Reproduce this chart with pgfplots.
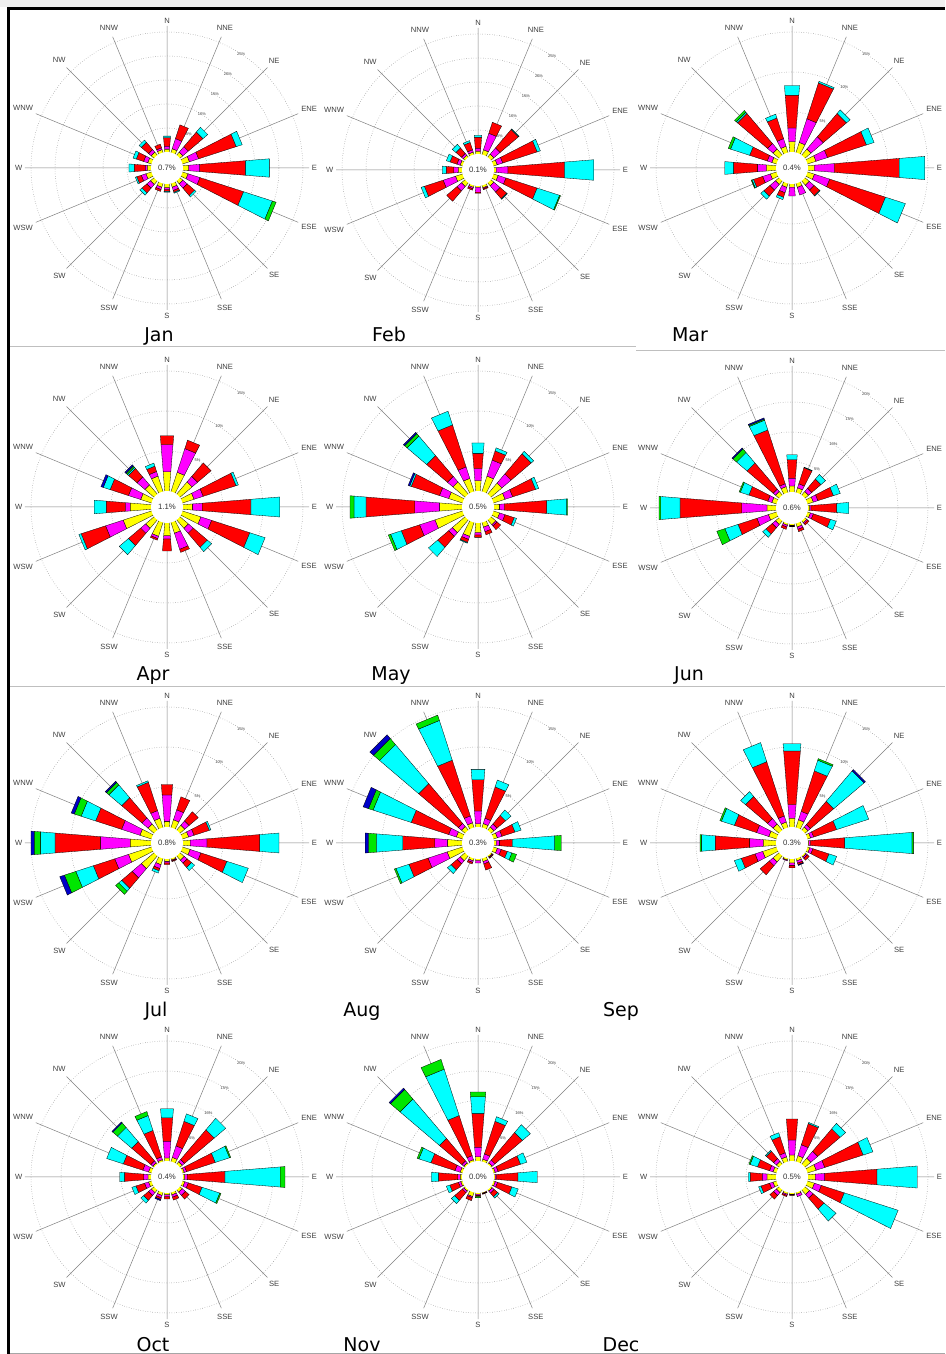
\documentclass[border=0pt]{standalone}
\usepackage{pgfplots}
\pgfplotsset{compat=1.18}
\usepgfplotslibrary{polar}
\usepackage{fontspec}
\setmainfont{Liberation Sans}
\newfontfamily\monthfont{DejaVu Sans}

\definecolor{wY}{RGB}{255,255,0}
\definecolor{wM}{RGB}{255,0,255}
\definecolor{wR}{RGB}{255,0,0}
\definecolor{wC}{RGB}{0,255,255}
\definecolor{wG}{RGB}{0,230,0}
\definecolor{wB}{RGB}{0,0,200}

\newcommand\segcol[1]{\ifcase#1\or wY\or wM\or wR\or wC\or wG\or wB\fi}

% #1 = px per percent, #2 = 16 lists of cumulative percentages (N, NNE, ... clockwise)
\newcommand\rosebars[2]{%
 \foreach \dl [count=\i from 0] in {#2} {%
   \pgfmathsetmacro\th{90-22.5*\i}%
   \xdef\rprev{15}%
   \foreach \v [count=\j] in \dl {%
     \pgfmathsetmacro\ra{\rprev}%
     \pgfmathsetmacro\rb{16+#1*\v}%
     \ifdim\rb pt>\ra pt
       \pgfmathsetmacro\ha{1+0.08*\ra}%
       \pgfmathsetmacro\hb{1+0.08*\rb}%
       \pgfmathsetmacro\da{atan2(\ha,\ra)}%
       \pgfmathsetmacro\db{atan2(\hb,\rb)}%
       \pgfmathsetmacro\la{\ra/cos(\da)}%
       \pgfmathsetmacro\lb{\rb/cos(\db)}%
       \pgfmathsetmacro\aP{\th+\da}\pgfmathsetmacro\aM{\th-\da}%
       \pgfmathsetmacro\bP{\th+\db}\pgfmathsetmacro\bM{\th-\db}%
       \edef\cmd{\noexpand\addplot[fill=\segcol{\j},draw=black,line width=0.3pt] coordinates {(\aM,\la) (\aP,\la) (\bP,\lb) (\bM,\lb) (\aM,\la)};}%
       \cmd
       \xdef\rprev{\rb}%
     \fi
   }%
 }%
}

\def\kA{4.8}\def\kB{6}\def\kC{8}
\newcommand\rl[2]{\node[font=\fontsize{4}{4.5}\selectfont, text=black!75] at (axis cs:57,#1) {#2\%};}
\newcommand\ringlabelsA{\rl{40}{5}\rl{64}{10}\rl{88}{15}\rl{112}{20}\rl{136}{25}}
\newcommand\ringlabelsB{\rl{46}{5}\rl{76}{10}\rl{106}{15}\rl{136}{20}}
\newcommand\ringlabelsC{\rl{56}{5}\rl{96}{10}\rl{136}{15}}

\pgfplotsset{
 rosestyle/.style={
  anchor=origin, scale only axis, width=284pt, height=284pt,
  xmin=0, xmax=360, ymin=0, ymax=142,
  xtick={0,22.5,...,337.5},
  xticklabels={E,ENE,NE,NNE,N,NNW,NW,WNW,W,WSW,SW,SSW,S,SSE,SE,ESE},
  yticklabels={},
  grid=major,
  major x grid style={draw=black!50, line width=0.5pt},
  major y grid style={draw=black!55, dotted, line width=0.5pt},
  axis line style={draw=none},
  major tick length=0pt,
  xticklabel style={font=\fontsize{7.6}{8.5}\selectfont, text=black!75, inner sep=2.6pt},
  clip=false,
 },
 ringsA/.style={ytick={40,64,88,112,136}},
 ringsB/.style={ytick={46,76,106,136}},
 ringsC/.style={ytick={56,96,136}},
}

% #1 x, #2 y (image pixels), #3 scale type, #4 calm, #5 data
\newcommand\rose[5]{%
 \begin{polaraxis}[rosestyle, at={(#1,1354-#2)}, rings#3]
  \rosebars{\csname k#3\endcsname}{#5}
  \fill[white] (axis cs:0,0) circle[radius=16pt];
  \node[font=\fontsize{7.8}{8.5}\selectfont, text=black!80] at (axis cs:0,0) {#4\%};
  \csname ringlabels#3\endcsname
 \end{polaraxis}}

\newcommand\monthlab[3]{\node[font=\monthfont\fontsize{19}{22}\selectfont, anchor=base] at (#1,1354-#2) {#3};}

\begin{document}
\begin{tikzpicture}[x=1pt,y=1pt]
\useasboundingbox (0,0) rectangle (945,1354);
\clip (0,0) rectangle (945,1354);
\fill[white] (0,0) rectangle (945,1354);
\fill[black!6] (0,1354-7) rectangle (945,1354);

\rose{167}{168}{A}{0.7}{%
 {0.6,1.2,3.0,3.3},{0.8,3.0,6.0},{0.8,2.3,6.3,7.6},{1.5,3.5,11.7,13.0},
 {1.2,3.5,13.0,18.0},{1.2,3.8,13.3,19.6,20.4},{0.8,2.0,4.0,4.4},{0.8,1.5,1.9,2.1},
 {0.8,1.2,1.5,1.7},{0.8,1.3,1.7},{1.0,2.0,3.3,3.9},{1.2,2.2,3.2,3.5},
 {0.8,1.2,3.5,4.6},{0.8,1.7,3.3,4.0},{0.8,1.5,3.5,4.1},{0.6,1.0,1.8}}
\rose{478}{170}{A}{0.1}{%
 {0.6,1.2,3.5,3.9},{1.0,4.6,7.0},{0.8,2.5,7.5,7.7},{0.8,2.0,9.5,10.2},
 {0.5,2.9,14.7,20.8},{1.0,2.7,9.5,14.4,14.6},{0.8,2.5,4.3,4.5},{0.5,0.7,0.9},
 {0.3,1.3,1.5},{0.4,0.7,1.0},{1.0,2.2,5.0},{1.5,4.2,8.3,9.0},
 {0.8,1.7,3.3,4.1},{0.5,1.2,2.7,3.5},{0.5,1.0,2.5,3.5},{0.5,1.0,2.6,3.0}}
\rose{792}{168}{C}{0.4}{%
 {1.3,3.0,7.1,8.3},{1.3,4.4,9.1,9.3},{1.0,3.0,6.8,7.4},{1.1,2.6,7.7,8.7},
 {0.8,3.3,11.4,14.6},{0.9,2.9,10.2,12.8},{0.7,1.5,2.4,2.5},{0.5,1.5},
 {0.4,1.5},{0.5,1.2,1.8,2.1},{0.6,1.5,2.5,3.0},{0.8,1.8,3.0,3.2,3.3},
 {1.2,2.3,5.3,6.4},{0.6,1.2,3.5,6.0,6.3},{1.0,1.9,6.8,7.0,7.3},{0.8,1.8,4.5,5.0}}

\rose{167}{507}{C}{1.1}{%
 {2.4,5.8,6.9},{2.5,5.6,6.7},{2.0,2.9,5.1},{1.5,2.7,7.0,7.3},
 {1.2,2.4,8.5,12.1},{2.4,3.8,8.8,10.8},{1.4,2.2,4.5,5.2},{1.4,3.5,3.9},
 {1.6,2.0,3.5},{1.8,2.1,2.3},{1.4,2.2,4.2,5.7},{3.7,6.0,9.2,9.5},
 {2.6,3.2,5.6,7.1},{1.4,3.0,5.4,6.3,6.3,6.6},{1.5,2.8,4.2,4.4,4.6,4.8},{2.0,2.6,3.3,3.7}}
\rose{478}{507}{C}{0.5}{%
 {1.3,2.8,4.7,6.0},{2.0,4.1,5.3,5.7},{1.8,3.3,6.6,7.0},{1.5,2.5,5.5,5.9},
 {0.7,1.3,6.6,9.1,9.2},{0.8,1.5,2.7,3.0},{0.8,1.0,1.6},{0.6,1.2,1.6},
 {1.2,1.5,1.8},{1.8,2.2,2.6,2.7},{2.1,2.7,4.5,6.0},{3.6,5.6,8.0,9.4,9.7},
 {2.8,5.9,12.0,13.5,14.0},{1.8,3.0,6.7,6.9,6.9,7.1},{2.0,2.9,6.3,9.5,9.9,10.1},{1.7,3.2,8.7,10.5}}
\rose{792}{508}{B}{0.6}{%
 {1.0,2.3,5.4,6.2},{0.8,1.5,4.3,4.4},{0.8,1.5,3.5,4.5},{1.0,1.8,4.5,5.7},
 {0.3,0.5,4.8,6.8},{0.5,1.0,4.0,5.0},{0.4,0.6,0.9},{0.6,1.0,1.4},
 {0.2,0.3,0.4,0.4,0.45},{0.3,0.6,1.0},{0.8,1.5,2.9,3.6},{1.4,3.4,6.7,9.0,10.4},
 {1.5,5.7,16.0,19.2,19.5},{0.8,1.5,4.8,6.3,6.5},{0.8,1.3,7.0,9.3,10.1,10.3},{1.0,1.5,10.9,12.6,12.8,13.0}}

\rose{167}{843}{C}{0.8}{%
 {0.7,4.0,5.3},{1.0,2.3,4.0},{0.8,1.5,3.0},{0.8,1.5,3.5,3.7},
 {0.9,3.0,9.6,12.0},{1.0,2.4,5.8,8.6},{0.7,1.2,1.9,2.4},{0.2,0.3,0.4},
 {0.3,0.5,0.7},{0.8,1.3,1.6,1.9},{2.1,3.6,5.3,5.8,6.3},{3.0,4.8,7.6,9.9,11.4,12.0},
 {2.6,6.3,12.0,13.8,14.6,15.0},{1.5,3.9,7.3,9.2,10.1,10.5},{1.0,2.0,5.3,7.4,7.8,8.0},{1.2,2.2,5.9,6.1}}
\rose{478}{843}{C}{0.3}{%
 {0.4,2.0,5.9,7.2},{0.5,1.2,5.3,6.2},{0.5,1.0,2.4,3.3},{0.5,1.1,2.8,3.6},
 {0.3,0.7,2.3,7.6,8.4},{0.5,1.0,1.8,2.4,3.0},{0.2,0.3,0.4},{0.4,0.7,1.5},
 {0.2,0.5},{0.3,0.5,0.7},{0.8,1.3,2.3,2.9},{2.0,4.5,7.0,8.7,8.9},
 {1.8,3.4,7.4,10.7,11.7,12.1},{0.8,1.8,6.7,11.7,12.3,13.0},{0.6,1.1,7.6,14.0,15.0,15.6},{0.6,1.5,8.8,14.0,14.7}}
\rose{792}{843}{C}{0.3}{%
 {1.1,2.8,9.5,10.4},{1.0,2.1,7.4,8.8,9.0},{0.5,0.9,4.7,9.7,9.7,9.9},{0.4,0.8,3.8,8.0},
 {0.1,0.3,4.6,13.0,13.2},{0.3,0.7,2.8,3.8},{0.2,0.4,0.7},{0.3,0.6,0.8,0.8,0.8,0.9},
 {0.5,0.8,1.1},{0.2,0.3},{1.0,1.6,3.1},{1.8,2.8,4.6,5.5},
 {1.6,3.3,7.6,9.3,9.5},{1.0,2.6,5.5,7.2,7.4},{1.0,1.9,5.5,6.3},{0.7,1.5,8.6,11.1}}

\rose{167}{1177}{B}{0.4}{%
 {0.5,3.3,7.2,8.7},{0.7,2.7,7.0,8.3},{0.5,1.0,7.5,10.0},{0.3,0.7,5.7,8.2,8.4},
 {0.3,0.7,7.0,16.2,17.0},{0.4,1.0,3.4,6.5,6.7},{0.5,1.2,2.0},{0.4,0.8,1.3},
 {0.3,0.6,1.0},{0.5,0.9,1.2,1.2,1.2,1.4},{0.6,1.2,2.3,2.9},{0.5,1.2,2.7,3.4},
 {0.5,1.2,4.4,5.2},{0.5,1.5,4.9,7.8},{0.3,0.7,4.9,8.0,9.0,9.2},{0.3,0.8,5.4,8.0,8.7}}
\rose{478}{1177}{B}{0.0}{%
 {0.7,2.3,7.9,10.7,11.5},{0.4,1.3,7.0,7.8},{0.3,0.9,6.9,8.6},{0.3,0.8,4.7,5.8},
 {0.2,0.4,4.0,7.2},{0.3,0.7,3.2,4.3},{0.3,0.7,1.5,1.8},{0.1,0.2,0.3},
 {0.2,0.4,0.6,0.6,0.8},{0.7,0.9,1.4},{0.3,0.6,2.3,3.0},{0.3,0.7,2.2,2.8},
 {0.3,0.7,3.9,5.1},{0.4,1.3,5.5,7.6,7.9},{0.3,0.7,5.6,14.2,16.3,16.6},{0.3,1.0,8.0,16.1,17.8}}
\rose{792}{1177}{B}{0.5}{%
 {1.0,3.5,7.0},{1.0,2.9,6.6,6.8},{1.3,2.8,7.7,8.9},{1.5,3.0,9.7,11.4},
 {1.2,2.8,11.5,18.2},{1.2,2.4,6.4,15.8},{1.0,1.8,4.2,6.8},{0.3,0.7},
 {0.2,0.3,0.4},{0.3,0.5,0.7},{0.6,1.2,2.0},{0.6,1.2,2.7,3.1},
 {1.5,2.3,4.3,4.6},{0.6,1.2,3.3,4.6,4.8},{0.6,1.2,2.8,3.0},{0.8,1.5,4.3,5.0}}

\monthlab{159}{342}{Jan}
\monthlab{389}{342}{Feb}
\monthlab{690}{342}{Mar}
\monthlab{153}{681}{Apr}
\monthlab{391}{681}{May}
\monthlab{689}{681}{Jun}
\monthlab{156}{1017}{Jul}
\monthlab{362}{1017}{Aug}
\monthlab{621}{1017}{Sep}
\monthlab{153}{1352}{Oct}
\monthlab{362}{1352}{Nov}
\monthlab{621}{1352}{Dec}

\draw[black!25, line width=0.8pt] (10,1354-346) -- (636,1354-346);
\draw[black!25, line width=0.8pt] (636,1354-350) -- (945,1354-350);
\draw[black!25, line width=0.8pt] (10,1354-686) -- (945,1354-686);
\draw[black!35, line width=0.8pt] (10,1354-1353) -- (945,1354-1353);
\draw[black, line width=3pt] (8.5,0) -- (8.5,1354-8.5) -- (945,1354-8.5);
\end{tikzpicture}
\end{document}
